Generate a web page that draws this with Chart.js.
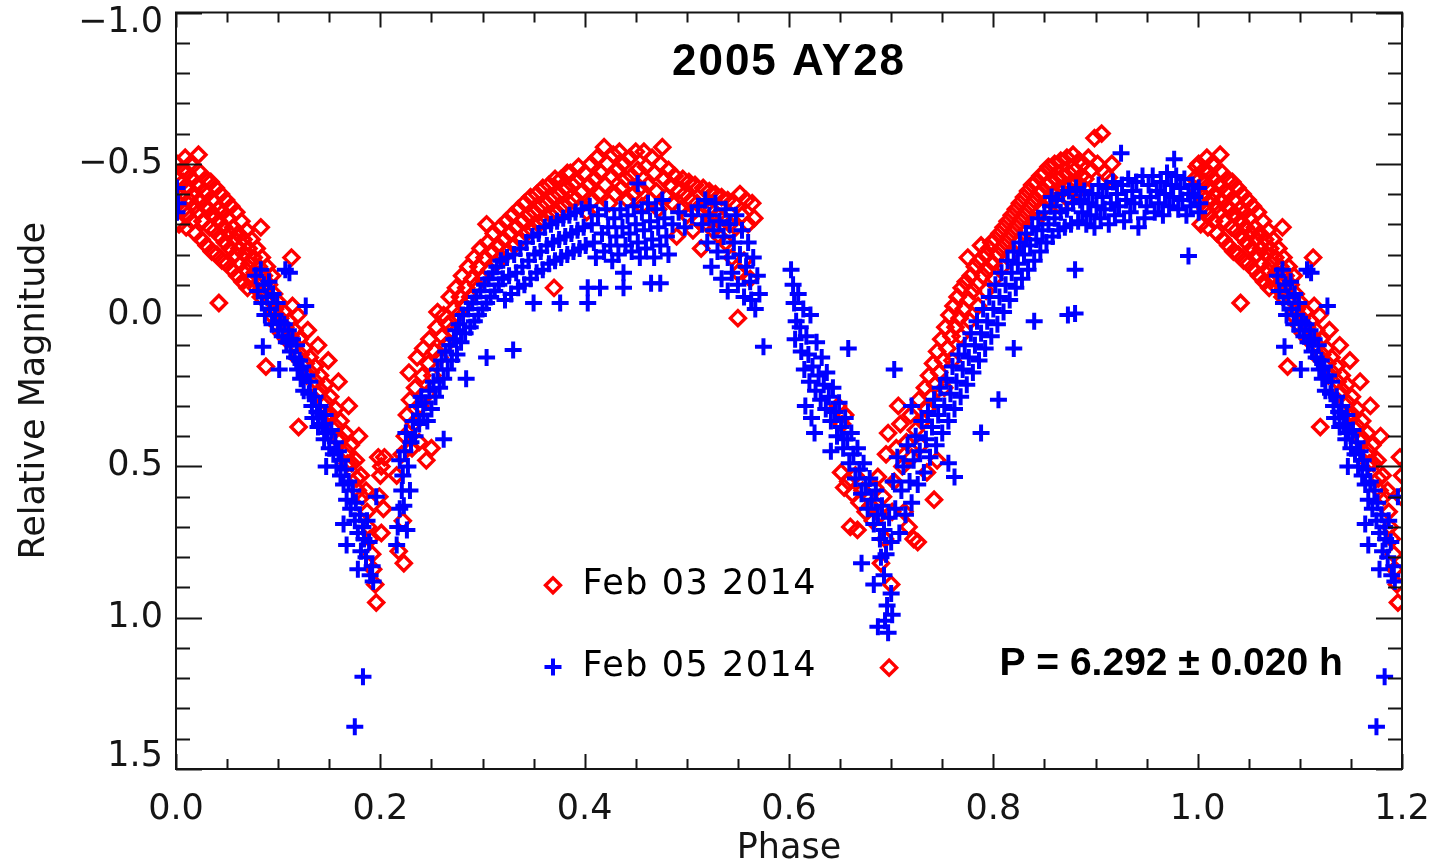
<!DOCTYPE html>
<html>
<head>
<meta charset="utf-8">
<title>2005 AY28 light curve</title>
<script src="https://cdn.jsdelivr.net/npm/chart.js@4/dist/chart.umd.min.js"></script>
<style>
  html, body { margin: 0; padding: 0; background: #fff; }
  canvas { display: block; }
</style>
</head>
<body>
<canvas id="lightcurve-canvas" width="1445" height="862"></canvas>
<script>
/**
 * Data: [phase, relative magnitude]
 */
const seriesNames = ['Feb 03 2014', 'Feb 05 2014'];
const xTickValues = [0.0, 0.2, 0.4, 0.6, 0.8, 1.0, 1.2];
const yTickValues = [-1.0, -0.5, 0.0, 0.5, 1.0, 1.5];
const yTickLabels = ['\u22121.0', '\u22120.5', '0.0', '0.5', '1.0', '1.5'];

// Feb 03 2014 (red diamonds)
const feb03Fall = [
  [0.001,-0.50],[0.002,-0.45],[0.001,-0.41],[0.003,-0.37],[0.003,-0.30],
  [0.006,-0.48],[0.007,-0.44],[0.005,-0.39],[0.008,-0.35],[0.009,-0.52],
  [0.011,-0.47],[0.012,-0.42],[0.013,-0.38],[0.011,-0.33],[0.010,-0.29],
  [0.016,-0.45],[0.017,-0.40],[0.018,-0.36],[0.016,-0.31],[0.014,-0.50],[0.019,-0.27],
  [0.022,-0.53],[0.021,-0.43],[0.023,-0.38],[0.022,-0.34],[0.024,-0.47],[0.025,-0.25],
  [0.027,-0.41],[0.028,-0.36],[0.026,-0.31],[0.029,-0.45],[0.030,-0.23],
  [0.031,-0.40],[0.032,-0.35],[0.033,-0.29],[0.034,-0.44],[0.035,-0.21],
  [0.036,-0.38],[0.037,-0.33],[0.038,-0.28],[0.039,-0.42],[0.040,-0.20],
  [0.041,-0.35],[0.042,-0.31],[0.043,-0.26],[0.042,-0.04],[0.044,-0.40],[0.045,-0.18],
  [0.046,-0.34],[0.047,-0.29],[0.048,-0.24],[0.049,-0.38],[0.050,-0.17],
  [0.051,-0.32],[0.052,-0.27],[0.053,-0.22],[0.054,-0.36],[0.055,-0.15],
  [0.056,-0.29],[0.057,-0.25],[0.058,-0.20],[0.059,-0.34],[0.060,-0.13],
  [0.061,-0.27],[0.062,-0.22],[0.063,-0.17],[0.064,-0.31],[0.065,-0.11],
  [0.066,-0.25],[0.067,-0.20],[0.068,-0.15],[0.069,-0.28],[0.070,-0.09],
  [0.071,-0.22],[0.072,-0.17],[0.073,-0.12],[0.074,-0.25],
  [0.076,-0.19],[0.077,-0.14],[0.078,-0.09],[0.079,-0.22],
  [0.083,-0.29],[0.081,-0.16],[0.082,-0.11],[0.083,-0.06],[0.084,-0.19],
  [0.086,-0.13],[0.087,-0.08],[0.088,0.17],[0.089,-0.16],
  [0.091,-0.10],[0.092,-0.05],[0.093,0.00],[0.094,-0.13],
  [0.096,-0.07],[0.097,-0.02],[0.098,0.03],
  [0.101,-0.04],[0.102,0.01],[0.103,0.06],
  [0.106,-0.01],[0.107,0.04],[0.108,0.08],
  [0.111,0.02],[0.112,0.07],[0.113,-0.19],[0.114,-0.03],
  [0.116,0.05],[0.117,0.10],[0.118,0.14],[0.119,0.00],
  [0.120,0.37],[0.121,0.08],[0.122,0.13],
  [0.126,0.11],[0.127,0.16],[0.128,0.20],[0.129,0.05],
  [0.131,0.14],[0.132,0.19],
  [0.136,0.17],[0.137,0.22],[0.138,0.26],[0.139,0.10],
  [0.141,0.20],[0.142,0.25],
  [0.146,0.23],[0.147,0.29],[0.148,0.33],[0.149,0.15],
  [0.151,0.27],[0.152,0.33],
  [0.156,0.31],[0.157,0.37],[0.158,0.41],[0.159,0.22],
  [0.161,0.35],[0.162,0.41],
  [0.166,0.39],[0.167,0.45],[0.168,0.49],[0.169,0.30],
  [0.171,0.43],[0.172,0.49],
  [0.176,0.48],[0.177,0.54],[0.178,0.58],[0.179,0.40],
  [0.181,0.53],[0.182,0.60],
  [0.186,0.58],[0.187,0.65],[0.188,0.70],
  [0.190,0.74],[0.192,0.79],[0.193,0.84],
  [0.195,0.89],[0.196,0.95],
  [0.198,0.47],[0.201,0.50],[0.204,0.47],[0.200,0.53],[0.199,0.60],[0.203,0.64],[0.201,0.72]
];

const feb03Rise = [
  [0.216,0.53],[0.222,0.68],[0.218,0.78],[0.223,0.82],
  [0.221,0.46],[0.224,0.40],[0.226,0.33],[0.228,0.19],[0.229,0.28],
  [0.231,0.44],[0.233,0.36],[0.234,0.24],[0.236,0.14],
  [0.238,0.42],[0.239,0.30],[0.241,0.20],[0.242,0.11],
  [0.245,0.48],[0.246,0.26],[0.247,0.16],[0.248,0.08],
  [0.250,0.44],[0.251,0.20],[0.253,0.12],[0.255,0.04],[0.256,-0.01],
  [0.258,0.14],[0.260,0.07],[0.262,0.00],
  [0.264,0.10],[0.266,0.03],[0.268,-0.06],
  [0.270,0.05],[0.272,-0.02],[0.274,-0.09],
  [0.276,0.00],[0.278,-0.06],[0.280,-0.13],
  [0.282,-0.03],[0.284,-0.09],[0.286,-0.16],
  [0.288,-0.06],[0.290,-0.12],[0.292,-0.19],
  [0.294,-0.10],[0.296,-0.16],[0.298,-0.22],
  [0.300,-0.12],[0.302,-0.19],[0.304,-0.30],[0.305,-0.24],
  [0.307,-0.15],[0.309,-0.21],[0.311,-0.27],
  [0.313,-0.17],[0.315,-0.23],[0.317,-0.29],
  [0.319,-0.19],[0.321,-0.25],[0.323,-0.31],
  [0.325,-0.21],[0.327,-0.27],[0.329,-0.33],
  [0.331,-0.23],[0.333,-0.29],[0.335,-0.35],
  [0.337,-0.25],[0.339,-0.31],[0.341,-0.37],
  [0.343,-0.27],[0.345,-0.33],[0.347,-0.39],
  [0.349,-0.28],[0.351,-0.34],[0.353,-0.40],
  [0.355,-0.30],[0.357,-0.36],[0.359,-0.42],
  [0.361,-0.31],[0.363,-0.37],[0.365,-0.43],
  [0.367,-0.33],[0.369,-0.39],[0.370,-0.09],[0.371,-0.45],
  [0.373,-0.34],[0.375,-0.40],[0.377,-0.45],
  [0.379,-0.36],[0.381,-0.42],[0.383,-0.47],
  [0.385,-0.37],[0.386,-0.47],[0.388,-0.43],
  [0.390,-0.38],[0.392,-0.44],[0.394,-0.49],
  [0.396,-0.36],[0.398,-0.41],[0.400,-0.47],
  [0.402,-0.34],[0.404,-0.43],[0.406,-0.50],
  [0.408,-0.38],[0.410,-0.45],[0.412,-0.52],
  [0.414,-0.40],[0.416,-0.47],[0.419,-0.555],
  [0.420,-0.43],[0.422,-0.50],[0.424,-0.37],
  [0.426,-0.46],[0.428,-0.53],[0.430,-0.40],
  [0.432,-0.48],[0.434,-0.54],[0.436,-0.42],
  [0.438,-0.50],[0.440,-0.45],[0.442,-0.38],
  [0.444,-0.52],[0.446,-0.46],[0.448,-0.40],
  [0.450,-0.54],[0.452,-0.48],[0.454,-0.42],
  [0.456,-0.36],[0.458,-0.54],[0.460,-0.49],
  [0.462,-0.43],[0.464,-0.38],[0.466,-0.52],
  [0.468,-0.47],[0.470,-0.41],[0.472,-0.35],
  [0.474,-0.50],[0.476,-0.555],[0.478,-0.45],
  [0.480,-0.39],[0.482,-0.48],[0.484,-0.43],
  [0.486,-0.37],[0.488,-0.46],[0.490,-0.26],
  [0.492,-0.41],[0.494,-0.35],[0.496,-0.45],
  [0.498,-0.40],[0.500,-0.33],[0.502,-0.44],
  [0.504,-0.38],[0.506,-0.28],[0.508,-0.43],
  [0.510,-0.37],[0.512,-0.31],[0.514,-0.22],
  [0.516,-0.42],[0.518,-0.36],[0.520,-0.30],
  [0.522,-0.41],[0.524,-0.35],[0.526,-0.28],
  [0.528,-0.40],[0.530,-0.33],[0.532,-0.26],
  [0.534,-0.39],[0.536,-0.32],[0.538,-0.24],
  [0.540,-0.38],[0.542,-0.30],[0.544,-0.19],
  [0.546,-0.37],[0.548,-0.29],[0.550,-0.14],[0.550,0.01],
  [0.552,-0.40],[0.554,-0.33],[0.556,-0.18],
  [0.558,-0.38],[0.560,-0.30],[0.562,-0.12],
  [0.564,-0.37],[0.566,-0.32]
];

const feb03Dip = [
  [0.648,0.30],[0.652,0.36],[0.655,0.33],
  [0.651,0.52],[0.654,0.57],[0.658,0.55],[0.660,0.70],[0.662,0.59],[0.665,0.53],[0.667,0.71],
  [0.669,0.62],[0.672,0.58],[0.675,0.65],[0.678,0.60],[0.680,0.63],[0.682,0.68],[0.684,0.57],
  [0.687,0.535],[0.689,0.66],[0.690,0.82],[0.692,0.60],[0.694,0.74],[0.695,0.46],[0.697,0.39],
  [0.698,1.165],[0.700,0.89],[0.701,0.65],[0.703,0.55],[0.705,0.44],[0.707,0.30],[0.709,0.36],
  [0.711,0.50],[0.713,0.65],[0.715,0.42],[0.717,0.70],[0.719,0.33],[0.720,0.47],[0.722,0.74],
  [0.724,0.38],[0.726,0.75],[0.727,0.28],[0.729,0.43],[0.731,0.35],[0.733,0.24],[0.735,0.31],
  [0.735,0.52],[0.737,0.20],[0.739,0.27],[0.741,0.16],[0.742,0.61],[0.743,0.23],[0.745,0.12],
  [0.745,0.48],[0.747,0.19],[0.749,0.08],[0.751,0.15],[0.752,0.24],[0.753,0.04],[0.755,0.11],
  [0.757,0.00],[0.759,0.07],[0.760,0.15],[0.761,-0.03],[0.763,0.04],[0.765,-0.06],[0.767,0.01],
  [0.768,0.07],[0.769,-0.09],[0.771,-0.02],[0.773,-0.11],[0.775,-0.19],[0.776,-0.05],[0.777,0.02],
  [0.778,-0.13],[0.780,-0.08],[0.782,-0.16],[0.784,-0.10],[0.785,-0.03],[0.786,-0.18],[0.788,-0.23],
  [0.790,-0.13],[0.792,-0.20],[0.793,-0.08],[0.794,-0.15],[0.796,-0.22],[0.798,-0.24],[0.800,-0.17],
  [0.801,-0.12],[0.802,-0.25],[0.804,-0.20],[0.806,-0.27],[0.808,-0.22],[0.809,-0.16],[0.810,-0.29],
  [0.812,-0.24],[0.814,-0.31],[0.816,-0.26],[0.817,-0.20],[0.818,-0.33],[0.820,-0.28],[0.822,-0.35],
  [0.824,-0.30],[0.825,-0.24],[0.826,-0.37],[0.828,-0.32],[0.830,-0.39],[0.832,-0.34],[0.833,-0.28],
  [0.834,-0.41],[0.836,-0.36],[0.838,-0.43],[0.840,-0.38],[0.841,-0.31],[0.842,-0.44],[0.844,-0.40],
  [0.846,-0.46],[0.848,-0.41],[0.849,-0.35],[0.850,-0.47],[0.852,-0.43],[0.854,-0.49],[0.856,-0.44],
  [0.857,-0.38],[0.858,-0.40],[0.860,-0.50],[0.862,-0.45],[0.864,-0.41],[0.865,-0.36],[0.866,-0.51],
  [0.868,-0.46],[0.870,-0.42],[0.872,-0.52],[0.873,-0.39],[0.874,-0.47],[0.876,-0.43],[0.878,-0.53],
  [0.880,-0.48],[0.881,-0.41],[0.882,-0.44],[0.884,-0.51],[0.886,-0.46],[0.888,-0.50],[0.889,-0.42],
  [0.890,-0.45],[0.893,-0.52],[0.896,-0.48],[0.899,-0.585],[0.902,-0.50],[0.906,-0.60],
  [0.909,-0.47],[0.913,-0.455],[0.916,-0.50]
];

const feb03Wrap = [
  [0.997,-0.45],[0.999,-0.49],
  [1.001,-0.50],[1.002,-0.45],[1.001,-0.41],[1.003,-0.37],[1.003,-0.30],
  [1.006,-0.48],[1.007,-0.44],[1.005,-0.39],[1.008,-0.35],[1.009,-0.52],
  [1.011,-0.47],[1.012,-0.42],[1.013,-0.38],[1.011,-0.33],[1.010,-0.29],
  [1.016,-0.45],[1.017,-0.40],[1.018,-0.36],[1.016,-0.31],[1.014,-0.50],[1.019,-0.27],
  [1.022,-0.53],[1.021,-0.43],[1.023,-0.38],[1.022,-0.34],[1.024,-0.47],[1.025,-0.25],
  [1.027,-0.41],[1.028,-0.36],[1.026,-0.31],[1.029,-0.45],[1.030,-0.23],
  [1.031,-0.40],[1.032,-0.35],[1.033,-0.29],[1.034,-0.44],[1.035,-0.21],
  [1.036,-0.38],[1.037,-0.33],[1.038,-0.28],[1.039,-0.42],[1.040,-0.20],
  [1.041,-0.35],[1.042,-0.31],[1.043,-0.26],[1.042,-0.04],[1.044,-0.40],[1.045,-0.18],
  [1.046,-0.34],[1.047,-0.29],[1.048,-0.24],[1.049,-0.38],[1.050,-0.17],
  [1.051,-0.32],[1.052,-0.27],[1.053,-0.22],[1.054,-0.36],[1.055,-0.15],
  [1.056,-0.29],[1.057,-0.25],[1.058,-0.20],[1.059,-0.34],[1.060,-0.13],
  [1.061,-0.27],[1.062,-0.22],[1.063,-0.17],[1.064,-0.31],[1.065,-0.11],
  [1.066,-0.25],[1.067,-0.20],[1.068,-0.15],[1.069,-0.28],[1.070,-0.09],
  [1.071,-0.22],[1.072,-0.17],[1.073,-0.12],[1.074,-0.25],
  [1.076,-0.19],[1.077,-0.14],[1.078,-0.09],[1.079,-0.22],
  [1.083,-0.29],[1.081,-0.16],[1.082,-0.11],[1.083,-0.06],[1.084,-0.19],
  [1.086,-0.13],[1.087,-0.08],[1.088,0.17],[1.089,-0.16],
  [1.091,-0.10],[1.092,-0.05],[1.093,0.00],[1.094,-0.13],
  [1.096,-0.07],[1.097,-0.02],[1.098,0.03],
  [1.101,-0.04],[1.102,0.01],[1.103,0.06],
  [1.106,-0.01],[1.107,0.04],[1.108,0.08],
  [1.111,0.02],[1.112,0.07],[1.113,-0.19],[1.114,-0.03],
  [1.116,0.05],[1.117,0.10],[1.118,0.14],[1.119,0.00],
  [1.120,0.37],[1.121,0.08],[1.122,0.13],
  [1.126,0.11],[1.127,0.16],[1.128,0.20],[1.129,0.05],
  [1.131,0.14],[1.132,0.19],
  [1.136,0.17],[1.137,0.22],[1.138,0.26],[1.139,0.10],
  [1.141,0.20],[1.142,0.25],
  [1.146,0.23],[1.147,0.29],[1.148,0.33],[1.149,0.15],
  [1.151,0.27],[1.152,0.33],
  [1.156,0.31],[1.157,0.37],[1.158,0.41],[1.159,0.22],
  [1.161,0.35],[1.162,0.41],
  [1.166,0.39],[1.167,0.45],[1.168,0.49],[1.169,0.30],
  [1.171,0.43],[1.172,0.49],
  [1.176,0.48],[1.177,0.54],[1.178,0.58],[1.179,0.40],
  [1.181,0.53],[1.182,0.60],
  [1.186,0.58],[1.187,0.65],[1.188,0.70],
  [1.190,0.74],[1.192,0.79],[1.193,0.84],
  [1.195,0.89],[1.196,0.95],
  [1.198,0.47],[1.200,0.53],[1.199,0.60]
];

// Feb 05 2014 (blue crosses)
const feb05Fall = [
  [0.001,-0.42],[0.002,-0.37],[0.001,-0.34],
  [0.078,-0.13],[0.080,-0.08],[0.083,-0.15],[0.084,-0.04],[0.086,-0.10],[0.087,0.00],[0.085,0.105],
  [0.089,-0.06],[0.091,-0.11],[0.092,-0.02],[0.094,0.03],[0.095,-0.07],
  [0.097,0.00],[0.099,-0.04],[0.100,0.05],[0.101,0.18],[0.102,0.02],
  [0.104,0.07],[0.106,0.03],[0.107,-0.15],[0.108,0.09],[0.110,0.05],[0.111,-0.14],
  [0.112,0.12],[0.114,0.08],[0.116,0.14],[0.118,0.10],[0.119,0.18],
  [0.121,0.15],[0.122,0.21],[0.124,0.17],[0.125,0.25],[0.127,-0.03],
  [0.128,0.20],[0.130,0.26],[0.131,0.22],[0.133,0.30],[0.134,0.34],
  [0.136,0.27],[0.138,0.32],[0.139,0.37],[0.141,0.30],[0.143,0.36],
  [0.145,0.41],[0.146,0.33],[0.147,0.50],[0.148,0.39],[0.150,0.44],
  [0.152,0.38],[0.154,0.46],[0.156,0.42],[0.157,0.50],[0.159,0.45],
  [0.161,0.53],[0.162,0.48],[0.164,0.56],[0.164,0.69],[0.166,0.51],
  [0.167,0.61],[0.167,0.76],[0.169,0.55],[0.171,0.64],[0.173,0.58],
  [0.175,1.36],[0.175,0.68],[0.176,0.62],[0.178,0.84],[0.178,0.72],
  [0.180,0.66],[0.181,0.78],[0.183,1.195],[0.183,0.70],[0.184,0.74],
  [0.186,0.80],[0.187,0.68],[0.189,0.75],[0.190,0.86],[0.192,0.83],[0.193,0.88],[0.196,0.60]
];

const feb05Rise = [
  [0.216,0.76],[0.217,0.70],[0.219,0.48],[0.219,0.64],[0.221,0.58],[0.222,0.53],[0.223,0.63],[0.224,0.45],
  [0.225,0.39],[0.226,0.71],[0.227,0.50],[0.229,0.58],[0.230,0.42],[0.232,0.35],[0.234,0.40],
  [0.236,0.30],[0.238,0.36],[0.240,0.27],[0.242,0.33],[0.244,0.29],[0.246,0.35],[0.248,0.25],
  [0.250,0.31],[0.252,0.22],[0.254,0.27],[0.256,0.18],[0.258,0.24],[0.260,0.15],[0.262,0.41],
  [0.262,0.21],[0.264,0.12],[0.266,0.18],[0.268,0.10],[0.270,0.15],[0.272,0.08],[0.274,0.05],
  [0.275,0.13],[0.277,0.03],[0.279,0.09],[0.281,0.00],[0.283,0.06],[0.284,0.21],[0.286,-0.02],
  [0.288,0.04],[0.290,-0.04],[0.292,0.02],[0.294,-0.06],[0.296,0.00],[0.298,-0.08],[0.300,-0.02],
  [0.302,-0.10],[0.304,0.14],[0.304,-0.04],[0.306,-0.12],[0.308,-0.06],[0.310,-0.14],[0.312,-0.08],
  [0.314,-0.16],[0.316,-0.10],[0.318,-0.18],[0.320,-0.12],[0.322,-0.05],[0.324,-0.19],[0.326,-0.13],
  [0.328,-0.07],[0.330,0.115],[0.331,-0.20],[0.333,-0.14],[0.335,-0.09],[0.337,-0.22],[0.339,-0.16],
  [0.341,-0.10],[0.343,-0.24],[0.345,-0.18],[0.347,-0.12],[0.349,-0.26],[0.350,-0.04],[0.351,-0.20],
  [0.353,-0.14],[0.355,-0.27],[0.357,-0.21],[0.359,-0.15],[0.361,-0.29],[0.363,-0.23],[0.365,-0.17],
  [0.367,-0.30],[0.369,-0.24],[0.371,-0.18],[0.373,-0.31],[0.375,-0.25],[0.376,-0.04],[0.377,-0.19],
  [0.379,-0.32],[0.381,-0.26],[0.383,-0.20],[0.385,-0.33],[0.387,-0.27],[0.389,-0.21],[0.391,-0.34],
  [0.393,-0.28],[0.395,-0.22],[0.397,-0.35],[0.399,-0.29],[0.401,-0.23],[0.403,-0.09],[0.403,-0.04],
  [0.405,-0.36],[0.407,-0.30],[0.409,-0.24],[0.411,-0.19],[0.413,-0.33],[0.415,-0.09],[0.417,-0.27],
  [0.419,-0.21],[0.421,-0.35],[0.423,-0.29],[0.425,-0.23],[0.427,-0.18],[0.429,-0.32],[0.431,-0.26],
  [0.433,-0.20],[0.435,-0.35],[0.437,-0.29],[0.438,-0.09],[0.438,-0.14],[0.440,-0.23],[0.442,-0.33],
  [0.444,-0.27],[0.446,-0.21],[0.448,-0.36],[0.450,-0.30],[0.452,-0.435],[0.452,-0.24],[0.454,-0.19],
  [0.456,-0.34],[0.458,-0.28],[0.460,-0.22],[0.462,-0.37],[0.464,-0.31],[0.465,-0.105],[0.466,-0.25],
  [0.468,-0.19],[0.470,-0.35],[0.472,-0.29],[0.474,-0.105],[0.474,-0.23],[0.476,-0.38],[0.478,-0.32],
  [0.480,-0.26],[0.482,-0.20],
  [0.486,-0.30],[0.492,-0.34],[0.498,-0.29],[0.505,-0.33],[0.511,-0.36],
  [0.515,-0.30],[0.518,-0.38],[0.520,-0.24],[0.522,-0.33],[0.524,-0.16],[0.526,-0.28],[0.528,-0.37],
  [0.530,-0.21],[0.532,-0.31],[0.534,-0.12],[0.536,-0.26],[0.538,-0.35],[0.540,-0.08],[0.540,-0.19],
  [0.542,-0.30],[0.544,-0.14],[0.546,-0.24],[0.548,-0.33],[0.550,-0.10],[0.552,-0.20],[0.554,-0.28],
  [0.556,-0.06],[0.558,-0.16],[0.560,-0.24],[0.562,-0.11],[0.563,-0.05],[0.565,-0.19],[0.567,-0.02],
  [0.569,-0.13],[0.571,-0.07],[0.575,0.105]
];

const feb05Dip = [
  [0.602,-0.15],[0.604,-0.10],[0.605,-0.04],[0.607,0.02],[0.606,0.08],[0.609,-0.07],[0.611,0.04],
  [0.612,0.12],[0.614,-0.02],[0.615,0.18],[0.616,0.30],[0.617,0.07],[0.619,0.13],[0.620,0.22],
  [0.621,0.00],[0.622,0.34],[0.623,0.17],[0.625,0.39],[0.626,0.25],[0.627,0.09],[0.629,0.20],
  [0.631,0.28],[0.632,0.14],[0.634,0.23],[0.636,0.31],[0.637,0.19],[0.639,0.27],[0.641,0.45],
  [0.641,0.35],[0.643,0.24],[0.645,0.32],[0.647,0.40],[0.649,0.29],[0.651,0.37],[0.653,0.44],
  [0.655,0.34],[0.657,0.41],[0.658,0.11],[0.659,0.49],[0.661,0.39],[0.663,0.46],[0.665,0.54],
  [0.667,0.44],[0.669,0.51],[0.671,0.59],[0.671,0.82],[0.673,0.49],[0.675,0.56],[0.677,0.64],
  [0.679,0.54],[0.681,0.61],[0.683,0.89],[0.683,0.69],[0.685,0.58],[0.687,1.03],[0.687,0.66],
  [0.689,0.74],[0.690,0.80],[0.691,0.63],[0.693,0.86],[0.693,0.71],[0.694,1.01],[0.695,0.79],
  [0.696,0.96],[0.697,1.05],[0.698,0.67],[0.700,0.75],[0.701,0.99],[0.700,0.92],[0.703,0.18],
  [0.702,0.55],[0.704,0.64],[0.706,0.47],[0.708,0.72],[0.710,0.58],[0.712,0.50],[0.714,0.66],
  [0.716,0.43],[0.718,0.55],[0.720,0.30],[0.720,0.62],[0.722,0.48],[0.724,0.40],[0.726,0.56],
  [0.728,0.45],[0.730,0.35],[0.732,0.52],[0.734,0.41],[0.736,0.32],[0.738,0.47],[0.740,0.37],
  [0.742,0.28],[0.744,0.43],[0.746,0.33],[0.748,0.24],[0.750,0.39],[0.752,0.30],[0.754,0.21],
  [0.756,0.49],[0.756,0.35],[0.758,0.26],[0.760,0.17],[0.762,0.535],[0.762,0.31],[0.764,0.22],
  [0.766,0.13],[0.768,0.27],[0.770,0.18],[0.772,0.10],[0.774,0.23],[0.776,0.14],[0.778,0.06],
  [0.780,0.19],[0.782,0.10],[0.784,0.02],[0.786,0.15],[0.788,0.39],[0.788,0.06],[0.790,-0.02],
  [0.792,0.11],[0.794,0.02],[0.796,-0.06],[0.798,0.07],[0.800,-0.02],[0.802,-0.10],[0.804,0.03],
  [0.805,0.28],[0.806,-0.06],[0.808,-0.14],[0.810,-0.01],[0.812,-0.10],[0.814,-0.18],[0.816,-0.05],
  [0.818,-0.14],[0.820,0.11],[0.820,-0.21],[0.822,-0.09],[0.824,-0.17],[0.826,-0.24],[0.828,-0.12],
  [0.830,-0.20],[0.832,-0.27],[0.834,-0.15],[0.836,-0.23],[0.838,-0.29],[0.840,0.02],[0.840,-0.18],
  [0.842,-0.25],[0.844,-0.32],[0.846,-0.21],[0.848,-0.28],[0.850,-0.34],[0.852,-0.24],[0.854,-0.30],
  [0.856,-0.36],[0.857,-0.39],[0.858,-0.26],[0.860,-0.32],[0.862,-0.38],[0.864,-0.28],[0.866,-0.34],
  [0.868,-0.40],[0.870,-0.29],[0.873,0.00],[0.872,-0.35],[0.874,-0.41],[0.876,-0.30],[0.878,-0.37],
  [0.880,-0.15],[0.880,-0.005],[0.881,-0.42],[0.883,-0.31],[0.885,-0.38],[0.887,-0.34],[0.889,-0.41],
  [0.891,-0.30],[0.893,-0.37],[0.895,-0.33],[0.897,-0.40],[0.899,-0.29],[0.901,-0.36],[0.903,-0.43],
  [0.905,-0.32],[0.907,-0.39],[0.909,-0.35],[0.911,-0.42],[0.913,-0.30],[0.915,-0.37],[0.917,-0.44],
  [0.919,-0.33],[0.921,-0.40],[0.923,-0.36],[0.925,-0.535],[0.926,-0.43],[0.928,-0.31],[0.930,-0.38],
  [0.932,-0.45],[0.934,-0.34],[0.936,-0.41],[0.938,-0.37],[0.940,-0.44],[0.942,-0.29],[0.944,-0.39],
  [0.946,-0.46],[0.948,-0.32],[0.950,-0.36],[0.952,-0.43],[0.954,-0.39],[0.956,-0.46],[0.958,-0.34],
  [0.960,-0.41],[0.962,-0.37],[0.964,-0.44],[0.966,-0.33],[0.968,-0.40],[0.970,-0.47],[0.972,-0.36],
  [0.974,-0.43],[0.976,-0.39],[0.977,-0.515],[0.979,-0.46],[0.981,-0.35],[0.983,-0.42],[0.985,-0.38],
  [0.987,-0.45],[0.989,-0.33],[0.991,-0.195],[0.991,-0.40],[0.993,-0.36],[0.995,-0.43],[0.997,-0.39]
];

const feb05Wrap = [
  [1.001,-0.42],[1.002,-0.37],[1.001,-0.34],
  [1.078,-0.13],[1.080,-0.08],[1.083,-0.15],[1.084,-0.04],[1.086,-0.10],[1.087,0.00],[1.085,0.105],
  [1.089,-0.06],[1.091,-0.11],[1.092,-0.02],[1.094,0.03],[1.095,-0.07],
  [1.097,0.00],[1.099,-0.04],[1.100,0.05],[1.101,0.18],[1.102,0.02],
  [1.104,0.07],[1.106,0.03],[1.107,-0.15],[1.108,0.09],[1.110,0.05],[1.111,-0.14],
  [1.112,0.12],[1.114,0.08],[1.116,0.14],[1.118,0.10],[1.119,0.18],
  [1.121,0.15],[1.122,0.21],[1.124,0.17],[1.125,0.25],[1.127,-0.03],
  [1.128,0.20],[1.130,0.26],[1.131,0.22],[1.133,0.30],[1.134,0.34],
  [1.136,0.27],[1.138,0.32],[1.139,0.37],[1.141,0.30],[1.143,0.36],
  [1.145,0.41],[1.146,0.33],[1.147,0.50],[1.148,0.39],[1.150,0.44],
  [1.152,0.38],[1.154,0.46],[1.156,0.42],[1.157,0.50],[1.159,0.45],
  [1.161,0.53],[1.162,0.48],[1.164,0.56],[1.164,0.69],[1.166,0.51],
  [1.167,0.61],[1.167,0.76],[1.169,0.55],[1.171,0.64],[1.173,0.58],
  [1.175,1.36],[1.175,0.68],[1.176,0.62],[1.178,0.84],[1.178,0.72],
  [1.180,0.66],[1.181,0.78],[1.183,1.195],[1.183,0.70],[1.184,0.74],
  [1.186,0.80],[1.187,0.68],[1.189,0.75],[1.190,0.86],[1.192,0.83],[1.193,0.88],[1.196,0.60]
];

const RED = '#ff0000';
const BLUE = '#0000ff';
const INK = '#151515';

Chart.defaults.font.family = '"DejaVu Sans", sans-serif';
Chart.defaults.color = INK;

/**
 * Turns [phase, mag] pairs into points for the scatter controller
 */
function toPoints(...parts) {
    return [].concat(...parts).map(([x, y]) => ({ x: x, y: y }));
}

/**
 * IDL style box: axis frame with inward ticks on all four sides,
 * plus the title, the in-plot legend and the period label
 */
const idlFrame = {
    id: 'idlFrame',
    afterDatasetsDraw(chart) {
        const { ctx, chartArea: area, scales: { x, y } } = chart;
        ctx.save();
        ctx.strokeStyle = INK;
        ctx.lineWidth = 2;
        ctx.strokeRect(area.left, area.top, area.right - area.left, area.bottom - area.top);

        ctx.beginPath();
        for (let i = 0; i <= 24; i++) {
            const px = Math.round(x.getPixelForValue(i * 0.05)) + 0.5;
            const len = i % 4 === 0 ? 15 : 10;
            ctx.moveTo(px, area.bottom); ctx.lineTo(px, area.bottom - len);
            ctx.moveTo(px, area.top); ctx.lineTo(px, area.top + len);
        }
        for (let i = 0; i <= 25; i++) {
            const py = Math.round(y.getPixelForValue(-1 + i * 0.1)) + 0.5;
            const len = i % 5 === 0 ? 26 : 14;
            ctx.moveTo(area.left, py); ctx.lineTo(area.left + len, py);
            ctx.moveTo(area.right, py); ctx.lineTo(area.right - len, py);
        }
        ctx.stroke();

        // title
        ctx.fillStyle = '#000';
        ctx.textBaseline = 'middle';
        ctx.textAlign = 'center';
        ctx.font = 'bold 44px "Liberation Sans", Arial, sans-serif';
        ctx.letterSpacing = '2px';
        ctx.fillText('2005 AY28', x.getPixelForValue(0.6), area.top + 50);

        // period
        ctx.textAlign = 'left';
        ctx.font = 'bold 39px "Liberation Sans", Arial, sans-serif';
        ctx.letterSpacing = '0px';
        ctx.fillText('P = 6.292 \u00b1 0.020 h', x.getPixelForValue(0.806), y.getPixelForValue(1.155));

        // legend
        const rows = [
            { name: seriesNames[0], style: 'rectRot', color: RED, radius: 7.5, width: 3.4, at: 0.893 },
            { name: seriesNames[1], style: 'cross', color: BLUE, radius: 8.5, width: 4, at: 1.163 }
        ];
        ctx.font = '35px "DejaVu Sans", sans-serif';
        ctx.letterSpacing = '1.5px';
        rows.forEach(row => {
            const py = y.getPixelForValue(row.at);
            ctx.save();
            ctx.strokeStyle = row.color;
            ctx.fillStyle = 'rgba(0,0,0,0)';
            ctx.lineWidth = row.width;
            Chart.helpers.drawPoint(ctx, { pointStyle: row.style, radius: row.radius, rotation: 0, borderWidth: row.width }, x.getPixelForValue(0.369), py);
            ctx.restore();
            ctx.fillStyle = '#000';
            ctx.fillText(row.name, x.getPixelForValue(0.398), py);
        });
        ctx.restore();
    }
};

const ctx = document.getElementById('lightcurve-canvas');
const lightcurve = new Chart(ctx, {
    type: 'scatter',
    data: {
        datasets: [
            {
                label: seriesNames[0],
                data: toPoints(feb03Fall, feb03Rise, feb03Dip, feb03Wrap),
                pointStyle: 'rectRot',
                pointRadius: 7.5,
                pointBorderWidth: 3.4,
                pointBorderColor: RED,
                pointBackgroundColor: 'rgba(0,0,0,0)',
                order: 2,
                clip: 0
            },
            {
                label: seriesNames[1],
                data: toPoints(feb05Fall, feb05Rise, feb05Dip, feb05Wrap),
                pointStyle: 'cross',
                pointRadius: 8.5,
                pointBorderWidth: 4,
                pointBorderColor: BLUE,
                pointBackgroundColor: BLUE,
                order: 1,
                clip: 0
            }
        ]
    },
    options: {
        responsive: false,
        animation: false,
        devicePixelRatio: 1,
        layout: { padding: { left: 0, top: 12, right: 43, bottom: 0 } },
        plugins: {
            legend: { display: false },
            tooltip: { enabled: false }
        },
        scales: {
            x: {
                type: 'linear',
                min: 0,
                max: 1.2,
                grid: { display: false, drawTicks: false },
                border: { display: false },
                afterBuildTicks: scale => { scale.ticks = xTickValues.map(v => ({ value: v })); },
                afterFit: scale => {
                    scale.height = 93;
                    scale.paddingLeft = 0;
                    scale.paddingRight = 0;
                },
                ticks: {
                    autoSkip: false,
                    maxRotation: 0,
                    padding: 20,
                    color: INK,
                    font: { size: 35 },
                    callback: v => Number(v).toFixed(1)
                },
                title: {
                    display: true,
                    text: 'Phase',
                    color: INK,
                    font: { size: 35, lineHeight: 0.75 },
                    padding: { top: 0, bottom: 0 }
                }
            },
            y: {
                type: 'linear',
                reverse: true,
                min: -1.0,
                max: 1.5,
                grid: { display: false, drawTicks: false },
                border: { display: false },
                // the end labels sit just inside the box, as in the original
                afterBuildTicks: scale => {
                    const last = yTickValues.length - 1;
                    scale.ticks = yTickValues.map((v, i) => ({ value: i === 0 ? v + 0.033 : (i === last ? v - 0.04 : v) }));
                },
                afterFit: scale => {
                    scale.width = 176;
                    scale.paddingTop = 0;
                    scale.paddingBottom = 0;
                },
                ticks: {
                    autoSkip: false,
                    padding: 13,
                    color: INK,
                    font: { size: 35 },
                    callback: (v, i) => yTickLabels[i]
                },
                title: {
                    display: true,
                    text: 'Relative Magnitude',
                    color: INK,
                    font: { size: 35, lineHeight: 1.2 },
                    padding: { top: 14, bottom: 0 }
                }
            }
        }
    },
    plugins: [idlFrame]
});
</script>
</body>
</html>
